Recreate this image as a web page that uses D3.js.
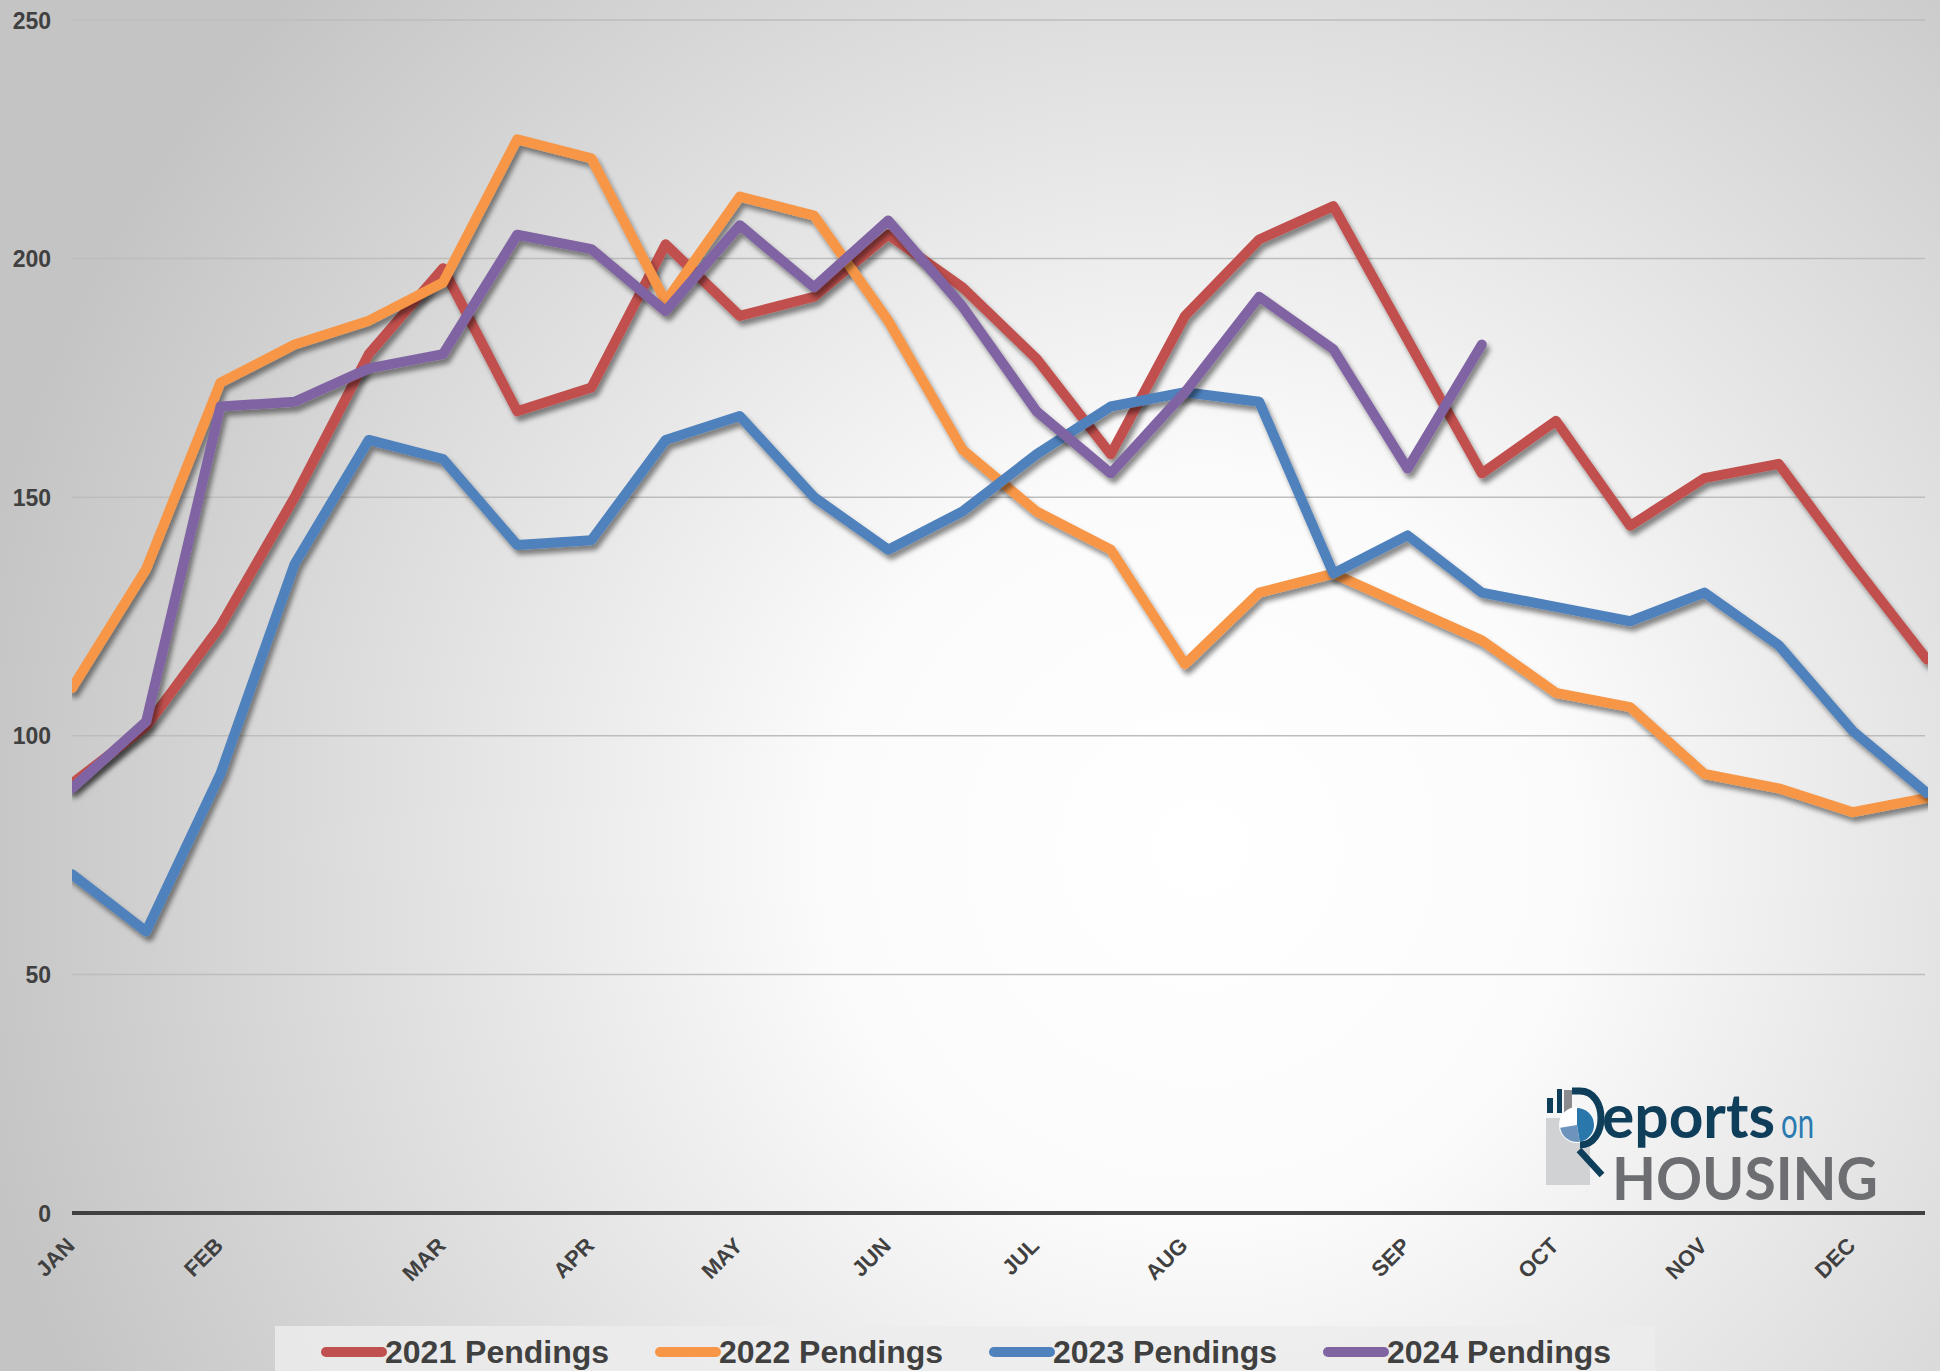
<!DOCTYPE html>
<html>
<head>
<meta charset="utf-8">
<script src="https://cdn.jsdelivr.net/npm/d3@7"></script>
<style>
  html, body { margin: 0; padding: 0; background: #fff; }
  svg { display: block; }
</style>
</head>
<body>
<div id="chart"></div>
<script>
var months = ["JAN", "FEB", "MAR", "APR", "MAY", "JUN", "JUL", "AUG", "SEP", "OCT", "NOV", "DEC"];
var monthIndex = [0, 2, 5, 7, 9, 11, 13, 15, 18, 20, 22, 24];
var yTicks = [0, 50, 100, 150, 200, 250];

var pend2021 = [90, 102, 123, 150, 180, 198, 168, 173, 203, 188, 192, 205, 194, 179, 159, 188, 204, 211, 183, 155, 166, 144, 154, 157, 136, 116];
var pend2022 = [110, 135, 174, 182, 187, 195, 225, 221, 191, 213, 209, 187, 160, 147, 139, 115, 130, 134, 127, 120, 109, 106, 92, 89, 84, 87];
var pend2023 = [71, 59, 92, 136, 162, 158, 140, 141, 162, 167, 150, 139, 147, 159, 169, 172, 170, 134, 142, 130, 127, 124, 130, 119, 101, 88];
var pend2024 = [89, 103, 169, 170, 177, 180, 205, 202, 189, 207, 194, 208, 190, 168, 155, 172, 192, 181, 156, 182];

var seriesNames = ["2021 Pendings", "2022 Pendings", "2023 Pendings", "2024 Pendings"];
var seriesColors = ["#C0504D", "#F79646", "#4F81BD", "#8064A2"];
var seriesData = [pend2021, pend2022, pend2023, pend2024];

var width = 1940,
    height = 1371,
    plotLeft = 72,
    plotRight = 1927,
    plotTop = 20,
    plotBottom = 1213;

var svg = d3.select("#chart").append("svg")
    .attr("width", width)
    .attr("height", height);

var defs = svg.append("defs");

var bg = defs.append("radialGradient")
    .attr("id", "bg")
    .attr("gradientUnits", "userSpaceOnUse")
    .attr("cx", 1200).attr("cy", 850).attr("r", 1250);
bg.append("stop").attr("offset", "0").attr("stop-color", "#ffffff");
bg.append("stop").attr("offset", "0.3").attr("stop-color", "#fbfbfb");
bg.append("stop").attr("offset", "1").attr("stop-color", "#c4c4c4");

var shadow = defs.append("filter")
    .attr("id", "shadow")
    .attr("x", "-5%").attr("y", "-5%")
    .attr("width", "110%").attr("height", "110%");
shadow.append("feDropShadow")
    .attr("dx", 3).attr("dy", 5)
    .attr("stdDeviation", 2.6)
    .attr("flood-color", "#000")
    .attr("flood-opacity", 0.45);

defs.append("clipPath").attr("id", "plot")
  .append("rect")
    .attr("x", plotLeft).attr("y", 0)
    .attr("width", plotRight - plotLeft + 1).attr("height", height);

svg.append("rect")
    .attr("width", width).attr("height", height)
    .attr("fill", "url(#bg)");

var x = d3.scaleLinear().domain([0, 25]).range([plotLeft, plotRight]);
var y = d3.scaleLinear().domain([0, 250]).range([plotBottom, plotTop]);

// gridlines
svg.append("g")
  .selectAll("line")
    .data(yTicks.slice(1))
  .enter().append("line")
    .attr("x1", plotLeft).attr("x2", plotRight - 2)
    .attr("y1", function(d) { return y(d); })
    .attr("y2", function(d) { return y(d); })
    .attr("stroke", "#bdbdbd")
    .attr("stroke-width", 1.5);

// y labels
var yAxis = svg.append("g")
    .attr("transform", "translate(" + (plotLeft - 21) + ",0)")
    .call(d3.axisLeft(y).tickValues(yTicks).tickSize(0).tickPadding(0));
yAxis.select(".domain").remove();
yAxis.selectAll("text")
    .attr("font-family", "Liberation Sans, Arial, sans-serif")
    .attr("font-weight", "bold")
    .attr("font-size", 23)
    .attr("fill", "#404040")
    .attr("dy", "0.35em");

// lines
var line = d3.line()
    .x(function(d, i) { return x(i); })
    .y(function(d) { return y(d); });

svg.append("g")
    .attr("clip-path", "url(#plot)")
  .selectAll("path")
    .data(seriesData)
  .enter().append("path")
    .attr("d", line)
    .attr("fill", "none")
    .attr("stroke", function(d, i) { return seriesColors[i]; })
    .attr("stroke-width", 10)
    .attr("stroke-linejoin", "round")
    .attr("stroke-linecap", "round")
    .attr("filter", "url(#shadow)");

// x axis line
svg.append("line")
    .attr("x1", plotLeft).attr("x2", plotRight - 2)
    .attr("y1", plotBottom).attr("y2", plotBottom)
    .attr("stroke", "#404040")
    .attr("stroke-width", 4);

svg.append("g")
  .selectAll("text")
    .data(months)
  .enter().append("text")
    .attr("transform", function(d, i) {
      return "translate(" + (x(monthIndex[i]) + 4) + "," + (plotBottom + 34) + ")rotate(-45)";
    })
    .attr("text-anchor", "end")
    .attr("font-family", "Liberation Sans, Arial, sans-serif")
    .attr("font-weight", "bold")
    .attr("font-size", 22)
    .attr("fill", "#404040")
    .text(function(d) { return d; });

// legend
svg.append("rect")
    .attr("x", 275).attr("y", 1326)
    .attr("width", 1380).attr("height", 50)
    .attr("fill", "#ececec")
    .attr("opacity", 0.85);

var legend = svg.append("g")
  .selectAll("g")
    .data(seriesNames)
  .enter().append("g")
    .attr("transform", function(d, i) { return "translate(" + (326 + i * 334) + ",0)"; });

legend.append("line")
    .attr("x1", 0).attr("x2", 56)
    .attr("y1", 1352).attr("y2", 1352)
    .attr("stroke", function(d, i) { return seriesColors[i]; })
    .attr("stroke-width", 10)
    .attr("stroke-linecap", "round");

legend.append("text")
    .attr("x", 59).attr("y", 1363)
    .attr("font-family", "Liberation Sans, Arial, sans-serif")
    .attr("font-weight", "bold")
    .attr("font-size", 32)
    .attr("fill", "#404040")
    .text(function(d) { return d; });

// logo
var logo = svg.append("g");
logo.append("rect")
    .attr("x", 1546).attr("y", 1118)
    .attr("width", 44).attr("height", 67)
    .attr("fill", "#d1d2d4");
logo.append("rect").attr("x", 1547).attr("y", 1098).attr("width", 6).attr("height", 15).attr("fill", "#0e3e5a");
logo.append("rect").attr("x", 1557).attr("y", 1089).attr("width", 5).attr("height", 24).attr("fill", "#0e3e5a");
logo.append("rect").attr("x", 1564).attr("y", 1090).attr("width", 8).attr("height", 28).attr("fill", "#8a8b8e");
logo.append("circle")
    .attr("cx", 1577).attr("cy", 1125).attr("r", 18)
    .attr("fill", "#ffffff");
logo.append("path")
    .attr("d", d3.arc().innerRadius(0).outerRadius(17).startAngle(0).endAngle(Math.PI * 0.95)())
    .attr("transform", "translate(1577,1125)")
    .attr("fill", "#2a78ab");
logo.append("path")
    .attr("d", d3.arc().innerRadius(0).outerRadius(17).startAngle(Math.PI * 0.95).endAngle(Math.PI * 1.45)())
    .attr("transform", "translate(1577,1125)")
    .attr("fill", "#6c94bd");
logo.append("path")
    .attr("d", "M1572,1091 L1580,1091 C1608,1091 1608,1145 1580,1145")
    .attr("fill", "none")
    .attr("stroke", "#0e3e5a")
    .attr("stroke-width", 7);
logo.append("line")
    .attr("x1", 1579).attr("y1", 1150)
    .attr("x2", 1602).attr("y2", 1175)
    .attr("stroke", "#0e3e5a")
    .attr("stroke-width", 6.5);
logo.append("text")
    .attr("x", 1602).attr("y", 1138)
    .attr("font-family", "Lato, sans-serif")
    .attr("font-weight", "bold")
    .attr("font-size", 61)
    .attr("textLength", 173)
    .attr("lengthAdjust", "spacingAndGlyphs")
    .attr("fill", "#0e3e5a")
    .text("eports");
logo.append("text")
    .attr("x", 1781).attr("y", 1138)
    .attr("font-family", "Lato, sans-serif")
    .attr("font-size", 42)
    .attr("textLength", 33)
    .attr("lengthAdjust", "spacingAndGlyphs")
    .attr("fill", "#2a7ab0")
    .text("on");
logo.append("text")
    .attr("x", 1612).attr("y", 1200)
    .attr("font-family", "Lato, sans-serif")
    .attr("font-weight", "bold")
    .attr("font-size", 60)
    .attr("textLength", 266)
    .attr("lengthAdjust", "spacingAndGlyphs")
    .attr("fill", "#6d6e71")
    .text("HOUSING");
</script>
</body>
</html>
